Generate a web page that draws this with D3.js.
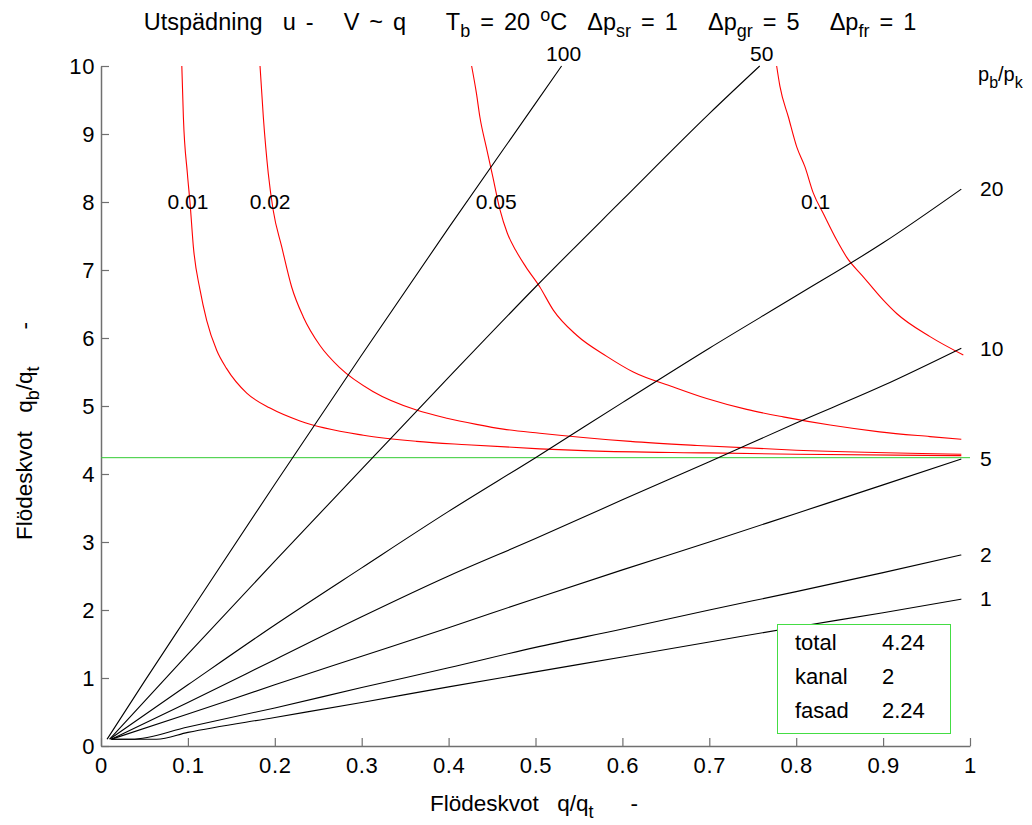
<!DOCTYPE html>
<html>
<head>
<meta charset="utf-8">
<script src="https://cdn.jsdelivr.net/npm/d3@7"></script>
<style>
  html, body { margin: 0; padding: 0; background: #fff; }
  svg { display: block; }
  text { font-family: "Liberation Sans", Arial, Helvetica, sans-serif; fill: #000; }
</style>
</head>
<body>
<svg id="chart" width="1032" height="825"></svg>
<script>
// ---------- data ----------
const xTickValues = [0, 0.1, 0.2, 0.3, 0.4, 0.5, 0.6, 0.7, 0.8, 0.9, 1];
const xTickLabels = ["0", "0.1", "0.2", "0.3", "0.4", "0.5", "0.6", "0.7", "0.8", "0.9", "1"];
const yTickValues = [0, 1, 2, 3, 4, 5, 6, 7, 8, 9, 10];
const yTickLabels = ["0", "1", "2", "3", "4", "5", "6", "7", "8", "9", "10"];

// pressure ratio curves p_b/p_k (black)
const ratioNames = ["1", "2", "5", "10", "20", "50", "100"];
const ratio1 = [[0.012,0.1],[0.064,0.1],[0.1,0.2],[0.2,0.42],[0.3,0.64],[0.4,0.87],[0.5,1.09],[0.6,1.31],[0.7,1.53],[0.8,1.75],[0.9,1.96],[0.99,2.16]];
const ratio2 = [[0.012,0.1],[0.035,0.1],[0.1,0.28],[0.2,0.56],[0.3,0.86],[0.4,1.15],[0.5,1.45],[0.6,1.72],[0.7,2.0],[0.8,2.27],[0.9,2.55],[0.99,2.81]];
const ratio5 = [[0.012,0.1],[0.1,0.47],[0.2,0.9],[0.3,1.32],[0.4,1.74],[0.5,2.17],[0.6,2.59],[0.7,3.0],[0.8,3.42],[0.9,3.84],[0.99,4.22]];
const ratio10 = [[0.012,0.1],[0.1,0.64],[0.2,1.27],[0.3,1.9],[0.4,2.5],[0.5,3.05],[0.6,3.62],[0.7,4.18],[0.8,4.75],[0.9,5.3],[0.99,5.85]];
const ratio20 = [[0.01,0.1],[0.1,0.9],[0.2,1.78],[0.3,2.62],[0.4,3.45],[0.5,4.24],[0.6,5.05],[0.7,5.85],[0.8,6.62],[0.9,7.4],[0.99,8.19]];
const ratio50 = [[0.01,0.1],[0.1,1.35],[0.2,2.72],[0.3,4.07],[0.4,5.42],[0.5,6.75],[0.6,8.03],[0.7,9.3],[0.758,10.0]];
const ratio100 = [[0.007,0.1],[0.05,0.95],[0.1,1.92],[0.2,3.85],[0.3,5.75],[0.4,7.62],[0.5,9.45],[0.53,10.0]];

// dilution curves u (red)
const dilutionNames = ["0.01", "0.02", "0.05", "0.1"];
const dil001 = [[0.093,10],[0.0948,9.25],[0.0994,8.42],[0.1025,7.98],[0.1063,7.34],[0.1139,6.71],[0.1216,6.26],[0.1331,5.82],[0.1446,5.55],[0.1677,5.19],[0.1945,4.97],[0.229,4.78],[0.302,4.57],[0.363,4.48],[0.421,4.43],[0.505,4.37],[0.563,4.34],[0.7,4.31],[0.8,4.29],[0.99,4.27]];
const dil002 = [[0.183,10],[0.1868,9.25],[0.1925,8.42],[0.198,7.89],[0.208,7.34],[0.2194,6.75],[0.2328,6.31],[0.252,5.89],[0.275,5.56],[0.3134,5.21],[0.363,4.94],[0.398,4.82],[0.432,4.73],[0.463,4.66],[0.505,4.6],[0.609,4.48],[0.686,4.42],[0.8,4.35],[0.99,4.29]];
const dil005 = [[0.4265,10],[0.432,9.6],[0.436,9.25],[0.4433,8.81],[0.4509,8.37],[0.459,7.89],[0.4676,7.54],[0.4772,7.29],[0.4887,7.05],[0.505,6.75],[0.5205,6.41],[0.5474,6.04],[0.582,5.73],[0.6125,5.5],[0.6586,5.28],[0.697,5.11],[0.743,4.95],[0.785,4.84],[0.839,4.72],[0.896,4.62],[0.954,4.55],[0.99,4.51]];
const dil01 = [[0.7775,10],[0.7813,9.7],[0.791,9.25],[0.8006,8.81],[0.81,8.52],[0.8197,8.13],[0.8312,7.83],[0.8466,7.44],[0.858,7.19],[0.8772,6.9],[0.9,6.56],[0.9156,6.36],[0.954,6.02],[0.9923,5.75]];

// total flow ratio (green)
const totalLevel = 4.24;
const totalLine = [[0, totalLevel], [1, totalLevel]];

// info box
const infoRows = ["total", "kanal", "fasad"];
const infoValues = ["4.24", "2", "2.24"];

const dilutionLabelLevel = 8;

// ---------- drawing ----------
const svg = d3.select("#chart");
const x = d3.scaleLinear().domain([0, 1]).range([101, 970]);
const y = d3.scaleLinear().domain([0, 10]).range([746, 66]);
const FS = 21;
const TICK_FS = 22;
const LABEL_FS = 22.5;
const TITLE_FS = 23.5;
const axisColor = "#707070";

const line = d3.line().x(d => x(d[0])).y(d => y(d[1])).curve(d3.curveMonotoneX);

// axes
const xAxis = svg.append("g").attr("transform", `translate(0,${y(0)})`)
  .call(d3.axisBottom(x).tickValues(xTickValues).tickFormat((d, i) => xTickLabels[i])
        .tickSize(-8).tickSizeOuter(0).tickPadding(11));
const yAxis = svg.append("g").attr("transform", `translate(${x(0)},0)`)
  .call(d3.axisLeft(y).tickValues(yTickValues).tickFormat((d, i) => yTickLabels[i])
        .tickSize(-8).tickSizeOuter(0).tickPadding(6));
[xAxis, yAxis].forEach(g => {
  g.select(".domain").attr("stroke", axisColor).attr("stroke-width", 1.5);
  g.selectAll(".tick line").attr("stroke", axisColor).attr("stroke-width", 1.2);
  g.selectAll(".tick text").attr("font-size", TICK_FS).attr("letter-spacing", 0.6)
    .attr("font-family", '"Liberation Sans", Arial, sans-serif').attr("fill", "#000");
});

// curves
const plot = svg.append("g");
plot.append("path").datum(totalLine).attr("d", line)
  .attr("fill", "none").attr("stroke", "#33cc33").attr("stroke-width", 1);

const dilSeries = [dil001, dil002, dil005, dil01];
plot.selectAll("path.dil").data(dilSeries).join("path").attr("class", "dil")
  .attr("d", line).attr("fill", "none").attr("stroke", "#ff0000").attr("stroke-width", 1.1);

const ratioSeries = [ratio1, ratio2, ratio5, ratio10, ratio20, ratio50, ratio100];
plot.selectAll("path.ratio").data(ratioSeries).join("path").attr("class", "ratio")
  .attr("d", line).attr("fill", "none").attr("stroke", "#000").attr("stroke-width", 1.1);

// labels for ratio curves
ratioSeries.forEach((s, i) => {
  const last = s[s.length - 1];
  const t = svg.append("text").attr("font-size", FS).text(ratioNames[i]);
  if (last[1] >= 9.99) {
    t.attr("x", x(last[0]) + 2).attr("y", y(last[1]) - 5).attr("text-anchor", "middle");
  } else {
    t.attr("x", 980).attr("y", y(last[1])).attr("dy", "0.35em").attr("text-anchor", "start");
  }
});

// labels for dilution curves: placed where each curve crosses the label level
dilSeries.forEach((s, i) => {
  let lx = s[0][0];
  for (let k = 0; k < s.length - 1; k++) {
    const a = s[k], b = s[k + 1];
    if ((a[1] - dilutionLabelLevel) * (b[1] - dilutionLabelLevel) <= 0) {
      lx = a[0] + (b[0] - a[0]) * (dilutionLabelLevel - a[1]) / (b[1] - a[1]);
      break;
    }
  }
  svg.append("text").attr("font-size", FS).attr("text-anchor", "middle")
    .attr("x", x(lx) - 2).attr("y", y(dilutionLabelLevel)).attr("dy", "0.35em")
    .text(dilutionNames[i]);
});

// rich text helper: segments of [text, mode] mode: "", "sub", "sup"
function richText(sel, segs, size) {
  const small = Math.round(size * 0.78);
  let shift = 0;
  segs.forEach(([t, mode]) => {
    const target = mode === "sub" ? 7 : mode === "sup" ? -9 : 0;
    sel.append("tspan").attr("dy", target - shift)
      .attr("font-size", mode ? small : size).text(t);
    shift = target;
  });
  return sel;
}

// title
const title = svg.append("text").attr("x", 530).attr("y", 30)
  .attr("text-anchor", "middle").attr("font-size", TITLE_FS)
  .attr("word-spacing", 3.5).style("white-space", "pre");
richText(title, [
  ["Utspädning  u -   V ~ q    T", ""], ["b", "sub"], [" = 20 ", ""], ["o", "sup"], ["C  Δp", ""],
  ["sr", "sub"], [" = 1   Δp", ""], ["gr", "sub"], [" = 5   Δp", ""], ["fr", "sub"], [" = 1", ""]
], TITLE_FS);

// p_b/p_k header
const hdr = svg.append("text").attr("x", 978).attr("y", 81).attr("font-size", 20).style("white-space", "pre");
richText(hdr, [["p", ""], ["b", "sub"], ["/p", ""], ["k", "sub"]], 20);

// x label
const xl = svg.append("text").attr("x", 534).attr("y", 811).attr("text-anchor", "middle")
  .attr("font-size", LABEL_FS).attr("word-spacing", 3).style("white-space", "pre");
richText(xl, [["Flödeskvot  q/q", ""], ["t", "sub"], ["    -", ""]], LABEL_FS);

// y label
const yl = svg.append("text").attr("transform", "translate(32,431) rotate(-90)")
  .attr("text-anchor", "middle").attr("font-size", LABEL_FS)
  .attr("word-spacing", 3).style("white-space", "pre");
richText(yl, [["Flödeskvot  q", ""], ["b", "sub"], ["/q", ""], ["t", "sub"], ["    -", ""]], LABEL_FS);

// info box
const box = svg.append("g");
box.append("rect").attr("x", 777.5).attr("y", 624.5).attr("width", 173).attr("height", 109)
  .attr("fill", "#fff").attr("stroke", "#44dd44").attr("stroke-width", 1);
infoRows.forEach((r, i) => {
  box.append("text").attr("x", 795).attr("y", 650 + i * 34.2).attr("font-size", FS + 1).text(r);
  box.append("text").attr("x", 882).attr("y", 650 + i * 34.2).attr("font-size", FS + 1).text(infoValues[i]);
});
</script>
</body>
</html>
